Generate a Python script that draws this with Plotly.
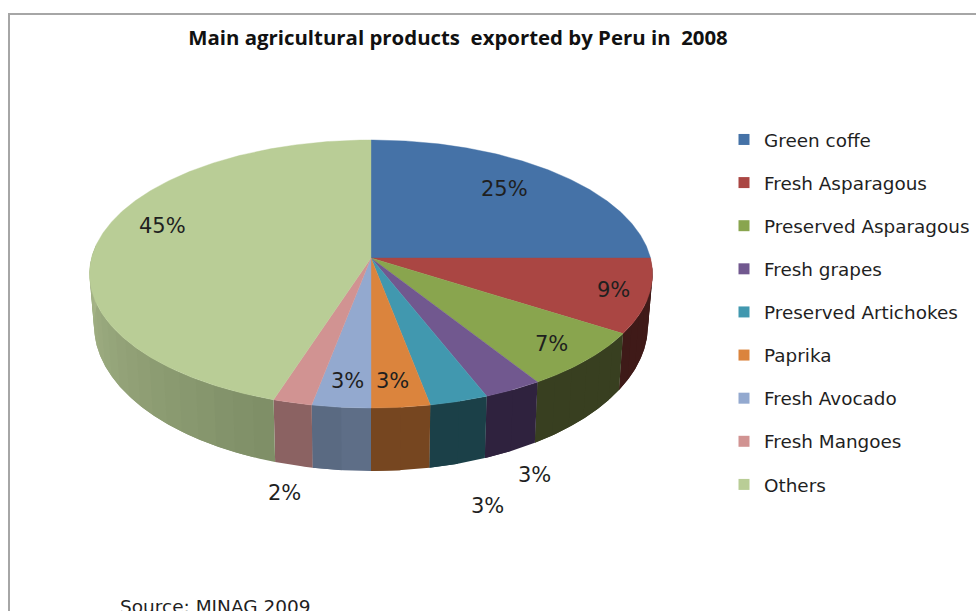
import math
import plotly.graph_objects as go

# Export shares, percent, clockwise from twelve o'clock
categories = ["Green coffe", "Fresh Asparagous", "Preserved Asparagous", "Fresh grapes",
              "Preserved Artichokes", "Paprika", "Fresh Avocado", "Fresh Mangoes", "Others"]
shares = [25, 9, 7, 3, 3, 3, 3, 2, 45]

top_colors = ["#4572a7", "#aa4643", "#89a54e", "#71588f", "#4198af",
              "#db843d", "#93a9cf", "#d19392", "#b9cd96"]
# Wall shade of each wedge at its first and last angle
wall_shades = [
    ((35, 57, 84), (35, 57, 84)),
    ((66, 27, 25), (62, 26, 24)),
    ((56, 63, 32), (56, 63, 32)),
    ((47, 34, 62), (47, 34, 62)),
    ((27, 64, 72), (27, 64, 72)),
    ((118, 70, 32), (118, 70, 32)),
    ((94, 110, 135), (90, 106, 130)),
    ((139, 98, 98), (139, 98, 98)),
    ((127, 143, 103), (167, 182, 137)),
]

# Centre of each percentage label on the canvas
label_anchors = [(504, 189), (613, 290), (551, 344), (534, 475), (487, 506),
                 (392, 381), (347, 381), (284, 493), (162, 226)]

# Perspective disc: far edge shrinks, near edge grows
CX, PERSP = 371.0, 0.1194
TOP = dict(y0=258.0, ax=279.5, ay=132.1)
BOTTOM = dict(y0=307.7, ax=275.0, ay=143.8)


def project(theta_deg, disc):
    t = math.radians(theta_deg)
    u, v = math.sin(t), math.cos(t)
    w = 1 + PERSP * v
    return CX + disc["ax"] * u / w, disc["y0"] - disc["ay"] * v / w


def arc(a, b, disc, step=1.0):
    n = max(2, int(abs(b - a) / step) + 1)
    pts = [project(a + (b - a) * i / (n - 1), disc) for i in range(n)]
    return [p[0] for p in pts], [p[1] for p in pts]


fig = go.Figure()

edges = [0.0]
for s in shares:
    edges.append(edges[-1] + s * 3.6)

# Rim first, so the top faces sit over it; each band runs under the next to hide seams
for i, share in enumerate(shares):
    a, b = max(edges[i], 90.0), min(edges[i + 1], 276.0)
    if b <= a:
        continue
    c0, c1 = wall_shades[i]
    bands = max(1, int((b - a) / 4))
    for k in range(bands):
        f = k / max(1, bands - 1)
        col = "rgb({},{},{})".format(*[round(c0[j] + (c1[j] - c0[j]) * f) for j in range(3)])
        p = a + (b - a) * k / bands
        q = a + (b - a) * (k + 1) / bands
        if k < bands - 1:
            q += (b - a) / bands
        xt, yt = arc(p, q, TOP, 0.5)
        xb, yb = arc(p, q, BOTTOM, 0.5)
        fig.add_trace(go.Scatter(
            x=xt + xb[::-1] + [xt[0]], y=yt + yb[::-1] + [yt[0]],
            mode="lines", fill="toself", fillcolor=col,
            line=dict(width=0), showlegend=False, hoverinfo="skip"))

# Top faces
for i, name in enumerate(categories):
    xs, ys = arc(edges[i], edges[i + 1], TOP, 0.5)
    ax0, ay0 = project(0, dict(TOP, ax=0.0, ay=0.0))
    fig.add_trace(go.Scatter(
        x=[ax0] + xs + [ax0], y=[ay0] + ys + [ay0],
        mode="lines", fill="toself", fillcolor=top_colors[i],
        line=dict(color=top_colors[i], width=0.4),
        name=name, showlegend=False, hoverinfo="name+text", text=f"{shares[i]}%"))

# Legend keys
for i, name in enumerate(categories):
    fig.add_trace(go.Scatter(
        x=[None], y=[None], mode="markers", name=name, legendgroup=name,
        marker=dict(symbol="square", size=11, color=top_colors[i])))

annotations = [
    dict(x=x, y=y, xref="x", yref="y", text=f"{s}%", showarrow=False,
         font=dict(family="DejaVu Sans", size=21, color="#1f1f1f"))
    for (x, y), s in zip(label_anchors, shares)
]
annotations.append(dict(
    x=118, y=606, xref="x", yref="y", xanchor="left", text="Source: MINAG 2009",
    showarrow=False, font=dict(family="DejaVu Sans", size=18.5, color="#1f1f1f")))

fig.update_layout(
    width=976, height=611,
    margin=dict(l=0, r=0, t=0, b=0),
    paper_bgcolor="white", plot_bgcolor="white",
    title=dict(text="<b>Main agricultural products  exported by Peru in  2008</b>",
               x=458 / 976, xanchor="center", y=1 - 38 / 611, yanchor="middle",
               font=dict(family="Open Sans", size=20.4, color="#111111")),
    xaxis=dict(range=[0, 976], visible=False, fixedrange=True),
    yaxis=dict(range=[611, 0], visible=False, fixedrange=True),
    legend=dict(x=724 / 976, y=1 - 121 / 611, xanchor="left", yanchor="top",
                tracegroupgap=16.2, bgcolor="rgba(0,0,0,0)",
                font=dict(family="DejaVu Sans", size=18.4, color="#1f1f1f")),
    annotations=annotations,
    shapes=[dict(type="rect", xref="x", yref="y", x0=9, y0=14, x1=1100, y1=800,
                 line=dict(color="#a6a6a6", width=2), layer="below")],
)

fig.write_html("out.html", config={"displayModeBar": False})
